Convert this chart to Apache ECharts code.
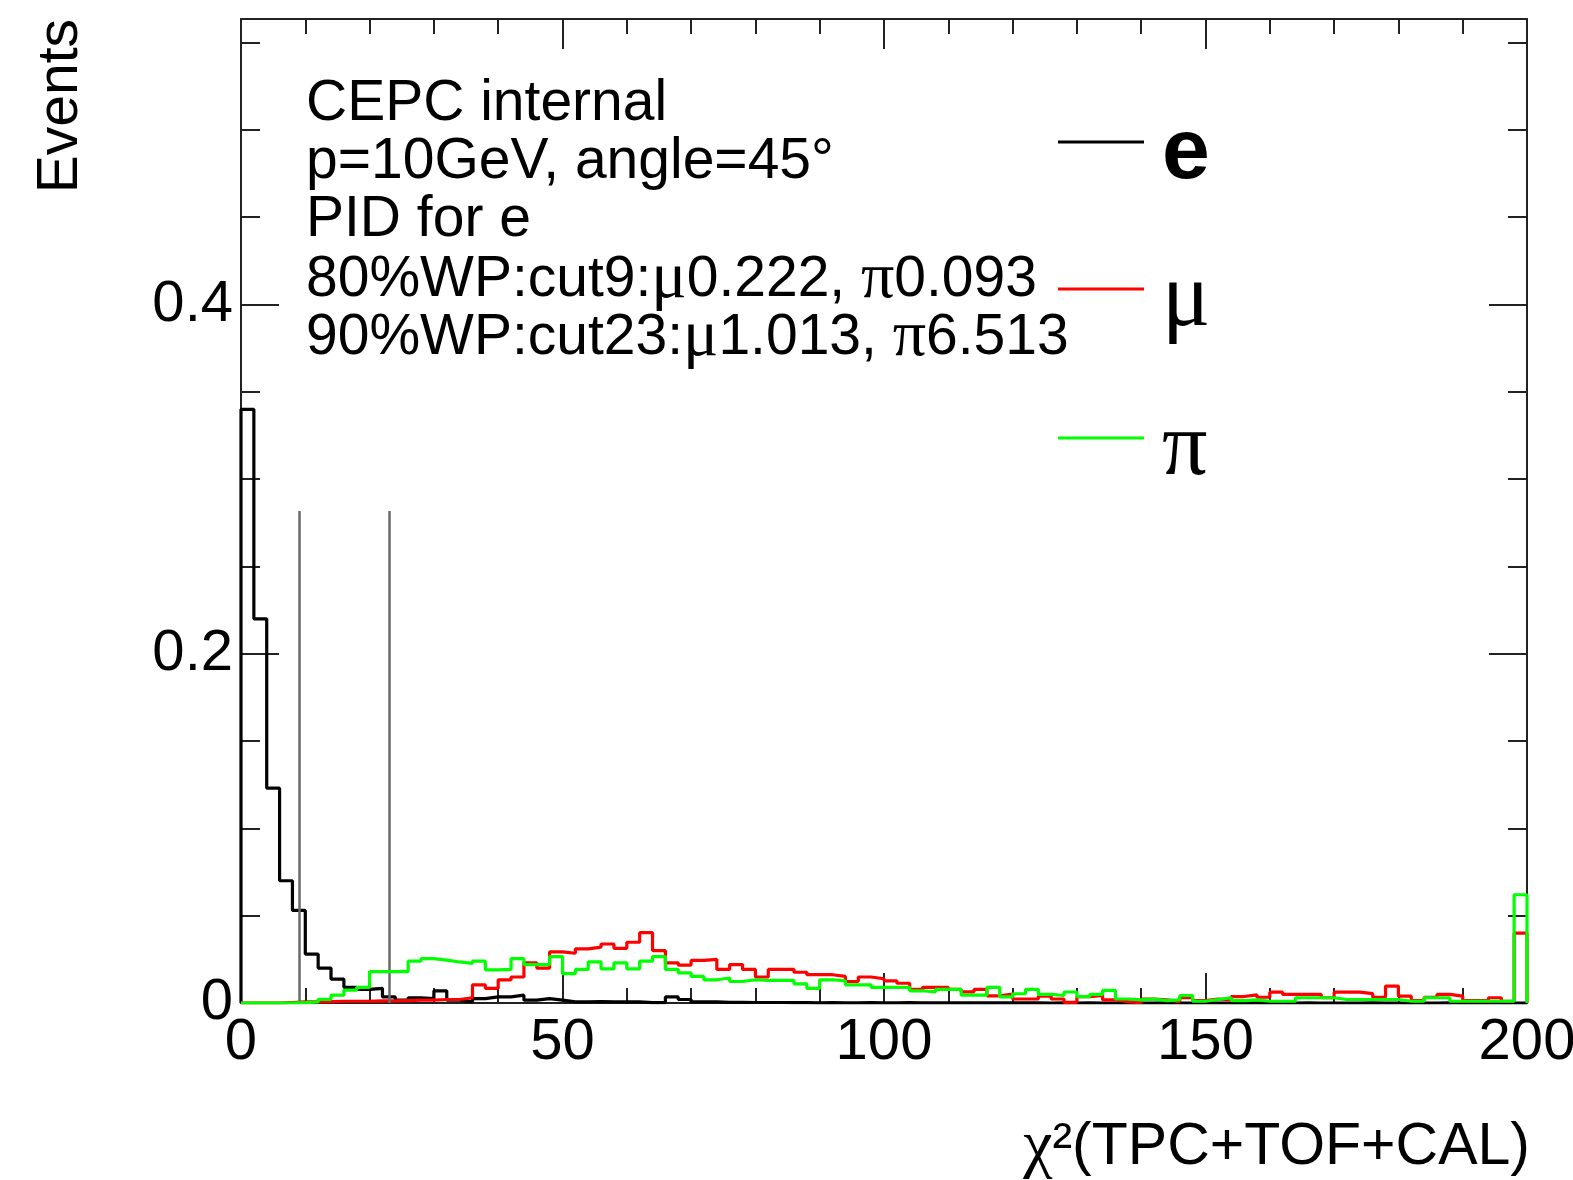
<!DOCTYPE html>
<html>
<head>
<meta charset="utf-8">
<title>chi2 PID</title>
<script src="https://cdn.jsdelivr.net/npm/echarts@6/dist/echarts.min.js"></script>
<style>
html, body { margin: 0; padding: 0; background: #fff; }
#chart { width: 1573px; height: 1180px; }
</style>
</head>
<body>
<div id="chart"></div>
<script>
// histogram binning (100 bins of width 2 on 0..200)
var xRange = [0, 200];
var binWidth = 2;
var yMax = 0.5635;
var cuts = [9, 23];
var cutTop = 0.2818;

// e (black)
var eVals = [
  0.340, 0.220, 0.123, 0.070, 0.053, 0.028, 0.020, 0.0137, 0.009, 0.0078,
  0.0084, 0.0035, 0.0016, 0.003, 0.0025, 0.007, 0.0016, 0.0006, 0.0025, 0.0035,
  0.0035, 0.0045, 0.0016, 0.0025, 0.0016, 0.0006, 0.0006, 0.0008, 0.0006, 0.0006,
  0.0006, 0.0002, 0.0002, 0.0035, 0.002, 0.0006, 0.0006, 0.0004, 0.0004, 0.0003,
  0.0003, 0.0003, 0.0002, 0.0002, 0.0001, 0.0002, 0.0001, 0.0001, 0.0002, 0.0001,
  0.0001, 0.0002, 0.0001, 0.0001, 0.0001, 0.0001, 0.0001, 0.0001, 0.0001, 0.0001,
  0.0001, 0.0001, 0, 0.0001, 0, 0.0001, 0, 0, 0.0001, 0,
  0, 0.0001, 0, 0, 0.0001, 0, 0, 0, 0.0001, 0,
  0, 0, 0.0001, 0, 0, 0, 0, 0.0001, 0, 0,
  0, 0, 0, 0.0001, 0, 0, 0, 0, 0, 0
];

// mu (red)
var muVals = [
  0, 0, 0, 0.0003, 0.0006, 0.0006, 0.0008, 0.001, 0.001, 0.001,
  0.0012, 0.0012, 0.0014, 0.0016, 0.0016, 0.002, 0.002, 0.003, 0.0104, 0.0084,
  0.0133, 0.0149, 0.023, 0.020, 0.0293, 0.0285, 0.031, 0.032, 0.0338, 0.0313,
  0.0348, 0.0403, 0.030, 0.023, 0.0217, 0.0244, 0.025, 0.0192, 0.022, 0.0192,
  0.0149, 0.0192, 0.0192, 0.0176, 0.0162, 0.0162, 0.0152, 0.0123, 0.0149, 0.0139,
  0.0127, 0.0113, 0.0078, 0.009, 0.009, 0.0078, 0.0064, 0.0078, 0.0041, 0.0051,
  0.0023, 0.0023, 0.0039, 0.0023, 0.0004, 0.0037, 0.0043, 0.0018, 0.0008, 0.0002,
  0.0023, 0.0018, 0.0008, 0.003, 0.0014, 0.0023, 0.0018, 0.0037, 0.0047, 0.0033,
  0.0062, 0.0049, 0.0049, 0.0049, 0.003, 0.0062, 0.0062, 0.0054, 0.0033, 0.0097,
  0.0039, 0.0014, 0.0033, 0.0049, 0.0039, 0.0014, 0.0014, 0.003, 0.001, 0.040
];

// pi (green)
var piVals = [
  0, 0, 0, 0, 0.0002, 0.0006, 0.0021, 0.0045, 0.0074, 0.009,
  0.018, 0.018, 0.018, 0.024, 0.0254, 0.0246, 0.0235, 0.0227, 0.024, 0.019,
  0.0192, 0.0254, 0.022, 0.022, 0.0266, 0.0168, 0.0192, 0.0235, 0.0195, 0.023,
  0.0195, 0.024, 0.0266, 0.0192, 0.0172, 0.0152, 0.0133, 0.0143, 0.0123, 0.0133,
  0.0129, 0.0129, 0.0129, 0.011, 0.0084, 0.0133, 0.0127, 0.0104, 0.0104, 0.009,
  0.009, 0.009, 0.007, 0.0064, 0.0078, 0.0078, 0.0045, 0.0045, 0.009, 0.0035,
  0.0053, 0.0078, 0.0049, 0.0043, 0.0063, 0.0037, 0.0049, 0.0072, 0.0023, 0.0018,
  0.0023, 0.0014, 0.0018, 0.0043, 0.001, 0.002, 0.003, 0.0014, 0.0018, 0.001,
  0.001, 0.001, 0.003, 0.003, 0.003, 0.002, 0.002, 0.002, 0.002, 0.002,
  0.001, 0.001, 0.003, 0.003, 0.001, 0.001, 0.001, 0.001, 0.001, 0.062
];

var seriesNames = ['e', 'μ', 'π'];
var seriesColors = ['#000000', '#ff0000', '#00ff00'];

var infoLines = [
  '{a|CEPC internal}',
  '{a|p=10GeV, angle=45°}',
  '{a|PID for e}',
  '{a|80%WP:cut9:}{g|μ}{a|0.222, }{g|π}{a|0.093}',
  '{a|90%WP:cut23:}{g|μ}{a|1.013, }{g|π}{a|6.513}'
];

var SANS = 'Liberation Sans';
var SERIF = 'Liberation Serif';

// bin contents -> outline points (ROOT "hist" style, closed to baseline)
function histPoints(vals) {
  var pts = [[xRange[0], 0]];
  for (var i = 0; i < vals.length; i++) {
    pts.push([xRange[0] + i * binWidth, vals[i]]);
  }
  pts.push([xRange[1], vals[vals.length - 1]]);
  pts.push([xRange[1], 0]);
  return pts;
}

function xAx(pos, interval, len, withLine, withLabel) {
  return {
    type: 'value', position: pos, min: xRange[0], max: xRange[1], interval: interval,
    axisLine: { show: withLine, onZero: false, lineStyle: { color: '#222', width: 2 } },
    axisTick: { show: true, inside: true, length: len, lineStyle: { color: '#222', width: 2 } },
    axisLabel: { show: withLabel, fontSize: 58, fontFamily: SANS, color: '#000', margin: 11 },
    splitLine: { show: false }
  };
}
function yAx(pos, interval, len, withLine, withLabel) {
  return {
    type: 'value', position: pos, min: 0, max: yMax, interval: interval,
    axisLine: { show: withLine, onZero: false, lineStyle: { color: '#222', width: 2 } },
    axisTick: { show: true, inside: true, length: len, lineStyle: { color: '#222', width: 2 } },
    axisLabel: { show: withLabel, showMaxLabel: false, fontSize: 58, fontFamily: SANS, color: '#000', margin: 8 },
    splitLine: { show: false }
  };
}

var chart = echarts.init(document.getElementById('chart'));

var allVals = [eVals, muVals, piVals];
var series = [];
for (var k = 0; k < 3; k++) {
  var s = {
    name: seriesNames[k],
    type: 'line',
    step: 'end',
    data: histPoints(allVals[k]),
    xAxisIndex: 0,
    yAxisIndex: 0,
    symbol: 'none',
    showSymbol: false,
    color: seriesColors[k],
    itemStyle: { color: seriesColors[k] },
    lineStyle: { color: seriesColors[k], width: 3.2 },
    z: 3 + k
  };
  if (k === 0) {
    s.markLine = {
      silent: true,
      symbol: ['none', 'none'],
      label: { show: false },
      lineStyle: { color: '#6a6a6a', width: 2.5, type: 'solid' },
      data: cuts.map(function (c) { return [{ coord: [c, 0] }, { coord: [c, cutTop] }]; })
    };
  }
  series.push(s);
}

var graphics = [
  {
    type: 'text', x: 61, y: 19, rotation: Math.PI / 2,
    style: { text: 'Events', fontSize: 57, fontFamily: SANS, fill: '#000', align: 'right', verticalAlign: 'middle' }
  },
  {
    type: 'text', x: 1530, y: 1148,
    style: {
      text: '{g|χ}{a|²(TPC+TOF+CAL)}',
      align: 'right', verticalAlign: 'middle',
      rich: {
        g: { fontSize: 66, fontFamily: SERIF, fill: '#000' },
        a: { fontSize: 59, fontFamily: SANS, fill: '#000' }
      }
    }
  }
];
var lineY = [104, 162, 220, 280, 338];
for (var j = 0; j < infoLines.length; j++) {
  graphics.push({
    type: 'text', x: 306, y: lineY[j],
    style: {
      text: infoLines[j], align: 'left', verticalAlign: 'middle',
      rich: {
        a: { fontSize: 57, fontFamily: SANS, fill: '#000' },
        g: { fontSize: 66, fontFamily: SERIF, fill: '#000' }
      }
    }
  });
}

chart.setOption({
  animation: false,
  backgroundColor: '#ffffff',
  grid: { left: 241, right: 46, top: 19, bottom: 177, outerBoundsMode: 'none', containLabel: false },
  xAxis: [
    xAx('bottom', 50, 30, true, true),
    xAx('bottom', 10, 15, false, false),
    xAx('top', 50, 30, true, false),
    xAx('top', 10, 15, false, false)
  ],
  yAxis: [
    yAx('left', 0.2, 38, true, true),
    yAx('left', 0.05, 19, false, false),
    yAx('right', 0.2, 38, true, false),
    yAx('right', 0.05, 19, false, false)
  ],
  legend: {
    data: seriesNames,
    orient: 'vertical',
    left: 1053,
    top: 82,
    icon: 'rect',
    itemWidth: 86,
    itemHeight: 3,
    itemGap: 35,
    selectedMode: false,
    textStyle: {
      fontSize: 86, lineHeight: 100, color: '#000',
      rich: {
        b: { fontSize: 86, lineHeight: 100, fontFamily: SANS, fontWeight: 'bold', color: '#000', padding: [24, 0, 0, 13] },
        g: { fontSize: 90, lineHeight: 100, fontFamily: SERIF, color: '#000', padding: [24, 0, 0, 13] }
      }
    },
    formatter: function (name) {
      return name === 'e' ? '{b|e}' : '{g|' + name + '}';
    }
  },
  graphic: graphics,
  series: series
});
</script>
</body>
</html>
